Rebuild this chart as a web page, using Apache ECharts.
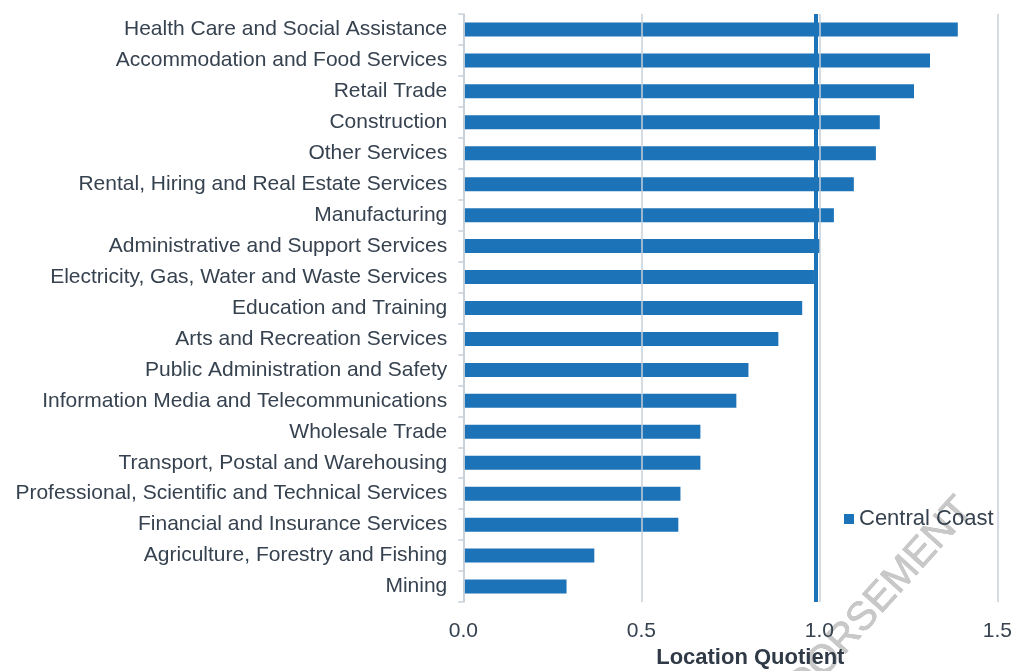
<!DOCTYPE html>
<html>
<head>
<meta charset="utf-8">
<script src="https://cdn.jsdelivr.net/npm/echarts@6/dist/echarts.min.js"></script>
<style>
  html, body { margin: 0; padding: 0; background: #ffffff; }
  #chart { width: 1019px; height: 671px; }
</style>
</head>
<body>
<div id="chart"></div>
<script>
const categories = [
  'Health Care and Social Assistance',
  'Accommodation and Food Services',
  'Retail Trade',
  'Construction',
  'Other Services',
  'Rental, Hiring and Real Estate Services',
  'Manufacturing',
  'Administrative and Support Services',
  'Electricity, Gas, Water and Waste Services',
  'Education and Training',
  'Arts and Recreation Services',
  'Public Administration and Safety',
  'Information Media and Telecommunications',
  'Wholesale Trade',
  'Transport, Postal and Warehousing',
  'Professional, Scientific and Technical Services',
  'Financial and Insurance Services',
  'Agriculture, Forestry and Fishing',
  'Mining'
];
const centralCoast = [1.389, 1.311, 1.266, 1.170, 1.159, 1.097, 1.041, 1.002, 0.985, 0.952,
  0.885, 0.801, 0.767, 0.666, 0.666, 0.610, 0.604, 0.368, 0.290];
const seriesName = 'Central Coast';
const referenceLine = 0.992;
const xTicks = { min: 0, max: 1.5, interval: 0.5 };
const axisTitle = 'Location Quotient';
const watermark = 'ENDORSEMENT';

const textColor = '#36424f';
const barColor = '#1d73b8';
const gridColor = '#c6cfd8';
const font = '"Liberation Sans", Arial, sans-serif';

const chart = echarts.init(document.getElementById('chart'), null, { renderer: 'canvas' });
chart.setOption({
  animation: false,
  backgroundColor: '#ffffff',
  textStyle: { fontFamily: font },
  grid: { left: 463.3, right: 21.7, top: 14, bottom: 69, containLabel: false, outerBoundsMode: 'none' },
  graphic: [{
    type: 'text',
    x: 862, y: 619,
    rotation: 48 * Math.PI / 180,
    z: 0,
    silent: true,
    style: {
      text: watermark,
      x: 0, y: 0,
      align: 'center',
      verticalAlign: 'middle',
      fontFamily: font,
      fontSize: 40,
      fill: '#c8c8c8',
      stroke: '#b4b4b4',
      lineWidth: 0.6
    }
  }],
  legend: {
    data: [seriesName],
    left: 844, top: 508,
    padding: 0,
    itemWidth: 10, itemHeight: 10,
    icon: 'rect',
    itemGap: 5,
    textStyle: { color: textColor, fontSize: 22, fontFamily: font },
    z: 10
  },
  xAxis: {
    type: 'value',
    min: xTicks.min, max: xTicks.max, interval: xTicks.interval,
    z: 5,
    axisLine: { show: false },
    axisTick: { show: false },
    splitLine: { show: true, lineStyle: { color: gridColor, width: 1.5 } },
    axisLabel: {
      color: textColor, fontSize: 21, fontFamily: font, margin: 19,
      formatter: v => v.toFixed(1)
    },
    name: axisTitle,
    nameLocation: 'middle',
    nameGap: 45,
    nameTextStyle: {
      color: '#2f3a46', fontSize: 22, fontWeight: 'bold', fontFamily: font,
      padding: [0, 0, 0, 40]
    }
  },
  yAxis: {
    type: 'category',
    data: categories,
    inverse: true,
    z: 5,
    axisLine: { show: true, lineStyle: { color: gridColor, width: 1.5 } },
    axisTick: { show: true, length: 5, lineStyle: { color: gridColor, width: 1.5 } },
    splitLine: { show: false },
    axisLabel: { color: textColor, fontSize: 21, fontFamily: font, margin: 16, padding: [4, 0, 0, 0] }
  },
  series: [{
    name: seriesName,
    type: 'bar',
    data: centralCoast,
    barWidth: 14,
    itemStyle: { color: barColor },
    z: 3,
    markLine: {
      silent: true,
      z: 6,
      symbol: ['none', 'none'],
      label: { show: false },
      lineStyle: { color: barColor, width: 4, type: 'solid', opacity: 1 },
      emphasis: { disabled: true },
      data: [{ xAxis: referenceLine }]
    }
  }]
});
</script>
</body>
</html>
